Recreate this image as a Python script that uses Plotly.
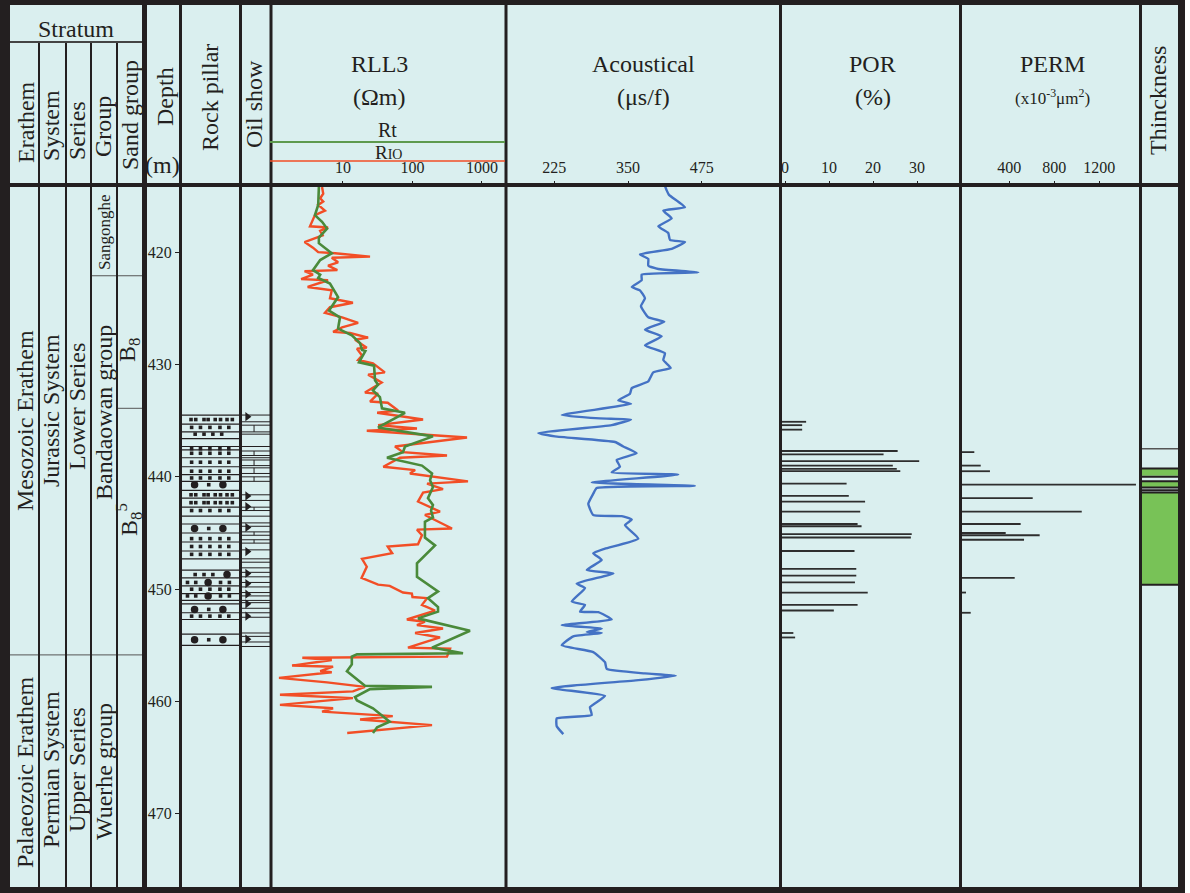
import plotly.graph_objects as go

W, H = 1190, 893
FONT = "Liberation Serif"
INK = "#231F20"
BG = "#DAEFEF"
GREEN = "#4A8A3A"
RED = "#F24E26"
BLUE = "#4472C4"
PAY = "#78C257"
BAR = "#2E2E2E"

# ---------------- data ----------------
depth_ticks = [420, 430, 440, 450, 460, 470]
depth_range = [476.6, 414.2]

rll_ticks = [10, 100, 1000]
rll_ticktext = ["10", "100", "1000"]
ac_ticks = [225, 350, 475]
por_ticks = [0, 10, 20, 30]
perm_ticks = [400, 800, 1200]

rio_depth = [414.2, 414.8, 415.2, 415.5, 415.8, 416.3, 416.7, 417.7, 417.8, 418.1,
             418.5, 419.1, 419.6, 420.0, 420.1, 420.4, 420.5, 420.9, 421.2, 421.6,
             421.7, 422.0, 422.4, 422.5, 423.1, 423.4, 424.1, 424.5, 424.9, 425.4,
             425.8, 426.3, 426.7, 427.1, 427.2, 427.6, 427.8, 428.5, 428.6, 429.2,
             429.6, 429.9, 430.7, 430.9, 431.6, 432.5, 432.6, 433.3, 433.4, 434.1,
             434.3, 434.9, 435.4, 435.7, 435.9, 436.5, 437.3, 437.8, 438.1, 438.3,
             439.1, 439.4, 439.7, 440.4, 440.6, 441.1, 441.4, 442.2, 443.1, 443.4,
             444.6, 444.7, 445.2, 446.0, 446.2, 446.8, 447.3, 448.0, 449.0, 449.6,
             449.7, 450.3, 450.4, 450.7, 450.8, 451.4, 451.9, 452.7, 452.9, 453.2,
             453.5, 453.9, 454.3, 455.2, 455.3, 456.0, 456.1, 456.3, 456.8, 456.9,
             457.3, 457.4, 457.9, 458.3, 458.7, 459.1, 459.4, 459.7, 460.3, 460.6,
             460.9, 461.3, 461.6, 462.1, 462.8]
rio_val = [5.0, 5.2, 4.7, 5.2, 4.4, 5.5, 3.95, 3.35, 6.1, 4.7,
           5.1, 2.8, 3.7, 4.4, 7.7, 24.5, 6.9, 8.5, 6.1, 8.3,
           2.8, 3.7, 2.5, 6.1, 3.1, 6.9, 6.5, 13.9, 6.5, 5.5,
           9.7, 16.5, 9.7, 7.2, 12.6, 23, 14.9, 22, 15.9, 18.8,
           16.5, 27, 40, 23, 36, 20.7, 32, 24.5, 44, 62,
           31, 142, 32, 116, 22, 609, 56, 73, 314, 66,
           38, 109, 92, 629, 162, 275, 142, 120, 249, 151,
           370, 116, 137, 120, 44, 51, 18.8, 22, 18.5, 32,
           47, 73, 98, 100, 162, 137, 211, 83, 151, 116,
           275, 109, 249, 86, 347, 314, 2.6, 6.9, 1.85, 7.2,
           4.7, 6.9, 1.2, 5.9, 20.7, 13.9, 1.24, 13.9, 1.24, 7.2,
           5.0, 52, 17.6, 191, 11.5]

rt_depth = [414.2, 415.8, 416.7, 417.3, 417.9, 418.7, 419.2, 420.1, 420.7, 421.6,
            422.0, 422.3, 422.8, 424.0, 425.2, 425.8, 426.8, 427.4, 428.1, 428.7,
            428.8, 429.8, 430.1, 431.4, 431.8, 432.3, 432.9, 433.9, 434.3, 435.6,
            436.4, 437.3, 437.8, 438.3, 439.0, 439.7, 440.3, 440.9, 441.9, 442.5,
            443.0, 443.6, 444.0, 445.4, 446.1, 447.7, 448.9, 450.2, 450.8, 451.6,
            452.0, 452.6, 453.7, 455.2, 455.7, 455.8, 456.0, 456.7, 457.3, 458.6,
            458.7, 458.9, 459.6, 459.9, 460.6, 461.8, 462.3, 462.8]
rt_val = [4.5, 4.4, 3.95, 5.0, 5.9, 4.5, 4.5, 6.9, 4.7, 3.7,
          4.7, 4.4, 6.5, 8.5, 6.3, 9.05, 8.5, 13.4, 17.6, 18.8,
          21, 17, 28, 28.9, 32, 27, 34, 36.4, 78, 32,
          197, 78, 73, 43, 137, 191, 179, 197, 167, 197,
          185, 197, 151, 151, 211, 116, 116, 233, 167, 233,
          233, 120, 672, 191, 533, 15.9, 13.4, 13.4, 11.4, 20.7,
          191, 24.5, 14.9, 15.9, 27, 47, 31, 27]

ac_depth = [414.1, 414.5, 414.9, 416.0, 416.3, 417.0, 417.7, 418.3, 418.9, 419.1,
            419.7, 420.2, 420.6, 421.2, 421.5, 421.8, 422.0, 422.5, 423.1, 423.4,
            424.1, 424.8, 425.8, 426.2, 426.9, 427.5, 428.3, 429.0, 429.6, 430.3,
            430.7, 431.5, 432.1, 432.6, 433.2, 433.5, 434.5, 434.8, 434.9, 435.4,
            436.1, 436.4, 436.9, 437.3, 437.9, 438.5, 439.1, 439.6, 439.8, 440.5,
            440.8, 441.0, 441.5, 442.4, 443.4, 443.5, 443.8, 444.3, 445.5, 446.4,
            446.8, 447.4, 448.3, 448.6, 449.5, 449.9, 451.1, 451.4, 452.0, 452.05,
            452.7, 453.2, 453.5, 453.8, 453.9, 454.2, 455.0, 455.6, 456.5, 457.1,
            457.5, 457.7, 458.1, 458.8, 459.5, 460.5, 461.2, 461.5, 462.2, 462.9]
ac_val = [412.7, 415.6, 419.5, 446.7, 409.9, 424.1, 401.4, 418.3, 421.2, 446.7,
          424.1, 370.3, 384.4, 384.4, 401.4, 469.2, 373.2, 373.2, 356.3, 370.3,
          378.8, 372.0, 384.4, 411.6, 378.8, 407.2, 378.8, 412.7, 409.9, 422.4,
          392.9, 384.4, 356.3, 353.4, 333.5, 355.1, 237.6, 302.5, 355.1, 322.4,
          197.9, 226.2, 328.0, 342.0, 364.7, 330.8, 336.4, 322.4, 435.3, 288.4,
          463.6, 296.9, 291.1, 282.7, 291.1, 339.3, 356.3, 344.9, 367.5, 311.0,
          291.1, 305.4, 280.0, 325.1, 263.0, 277.1, 254.5, 277.1, 268.6, 299.6,
          322.4, 237.6, 305.4, 280.0, 305.4, 257.2, 237.6, 291.1, 311.0, 313.9,
          378.8, 430.9, 367.5, 220.6, 311.0, 285.5, 288.4, 229.1, 229.1, 240.3]

por_depth = [435.1, 435.4, 435.8, 437.7, 438.0, 438.6, 439.0, 439.3, 439.5, 440.6,
             441.7, 442.2, 443.1, 444.2, 444.4, 445.1, 445.4, 446.6, 448.2, 448.8,
             449.4, 450.3, 451.4, 451.9, 453.9, 454.3]
por_val = [4.8, 3.9, 3.9, 25.6, 22.4, 30.5, 24.5, 25.4, 26.2, 14.0,
           14.5, 18.2, 17.1, 16.5, 17.4, 28.8, 28.6, 15.8, 16.2, 16.2,
           15.9, 18.8, 16.5, 11.1, 1.9, 2.3]

perm_depth = [437.8, 439.0, 439.5, 440.7, 441.9, 443.1, 444.2, 445.0, 445.2, 445.6,
              449.0, 450.3, 452.1]
perm_val = [89, 146, 228, 1526, 608, 1044, 501, 368, 670, 531, 448, 15, 57]

# pay intervals in the thickness column
pay_top = [439.3, 440.45, 441.4]
pay_base = [439.9, 440.9, 449.55]
thick_lines = [439.25, 440.0, 440.4, 440.95, 441.2, 441.4, 449.6]
thick_gray_lines = [437.5]

# stratigraphic boundaries (depth, m)
erathem_boundary = 455.85
group_boundary = 422.1
sand_boundary = 433.9

# lithology column
rock_lines = [434.5, 435.3, 436.0, 436.6, 437.3, 437.6, 438.3, 439.1, 439.8, 440.4,
              441.2, 441.9, 442.7, 443.5, 444.2, 445.0, 445.8, 446.6, 447.3, 448.3,
              449.0, 449.7, 450.4, 451.0, 451.3, 452.1, 452.7, 454.0, 455.0]
dot_rows_depth = [434.9, 435.6, 436.2, 437.5, 437.9, 438.7, 439.5, 440.1, 440.7, 441.6,
                  442.3, 443.0, 444.6, 445.5, 446.2, 446.9, 448.7, 449.4, 450.0, 450.6,
                  451.8, 452.4, 454.5]
dot_rows_kind = ["A", "B", "C", "B", "B", "B", "B", "B", "P", "A",
                 "A", "B", "P", "B", "B", "B", "R", "Q", "B", "Q",
                 "P", "B", "P"]

# oil show column
oil_lines = [434.5, 435.1, 435.4, 436.0, 436.2, 437.3, 437.7, 438.1, 438.3, 438.5,
             439.0, 439.2, 439.7, 440.0, 440.4, 441.6, 442.1, 442.7, 443.0, 443.5,
             444.1, 444.4, 444.9, 445.2, 445.6, 445.9, 446.5, 447.3, 447.6, 448.1,
             448.5, 448.9, 449.4, 449.8, 450.3, 450.6, 451.0, 451.2, 451.7, 452.1,
             452.5, 453.9, 454.2, 454.7, 455.1]
oil_split_top = [435.4, 437.7, 438.5, 439.2, 440.0, 442.7, 444.9, 445.6]
oil_split_base = [436.0, 438.1, 439.0, 439.7, 440.4, 443.0, 445.2, 445.9]
oil_show_depth = [434.65, 441.7, 442.65, 444.5, 446.65, 448.6, 449.5, 450.45, 451.3, 452.4, 454.45]

# ---------------- style helpers ----------------
def px(x):
    return x / W

def py(y):
    return 1 - y / H

DATA_TOP, DATA_BOT = 187, 888
ydom = [py(DATA_BOT), py(DATA_TOP)]

PATTERNS = {
    "A": ([.17, .25, .39, .46, .58, .67, .78, .87], []),
    "B": ([.18, .33, .49, .66, .81], []),
    "C": ([.24, .39, .54, .69], []),
    "P": ([.47], [.23, .71]),
    "R": ([.24, .39, .54], [.78]),
    "Q": ([.11, .25, .67, .82], [.46]),
}

fig = go.Figure()

# RLL3
fig.add_trace(go.Scatter(x=rio_val, y=rio_depth, xaxis="x", yaxis="y", mode="lines",
                         line=dict(color=RED, width=2.4), name="RIO"))
fig.add_trace(go.Scatter(x=rt_val, y=rt_depth, xaxis="x", yaxis="y", mode="lines",
                         line=dict(color=GREEN, width=2.6), name="Rt"))
# Acoustic
fig.add_trace(go.Scatter(x=ac_val, y=ac_depth, xaxis="x2", yaxis="y", mode="lines",
                         line=dict(color=BLUE, width=2.4, shape="spline", smoothing=0.4),
                         name="AC"))

POR_RANGE = [-1.136, 39.77]
PERM_RANGE = [-38.2, 1561.8]


def segments(depths, vals, base):
    xs, ys = [], []
    for d, v in zip(depths, vals):
        xs += [base, v, None]
        ys += [d, d, None]
    return xs, ys


xs, ys = segments(por_depth, por_val, POR_RANGE[0])
fig.add_trace(go.Scatter(x=xs, y=ys, xaxis="x3", yaxis="y", mode="lines",
                         line=dict(color=BAR, width=1.8), name="POR"))
xs, ys = segments(perm_depth, perm_val, PERM_RANGE[0])
fig.add_trace(go.Scatter(x=xs, y=ys, xaxis="x4", yaxis="y", mode="lines",
                         line=dict(color=BAR, width=1.8), name="PERM"))

# rock pillar
xs, ys = [], []
for d in rock_lines:
    xs += [0, 1, None]
    ys += [d, d, None]
fig.add_trace(go.Scatter(x=xs, y=ys, xaxis="x5", yaxis="y", mode="lines",
                         line=dict(color=INK, width=1.2)))
sx, sy, bx, by = [], [], [], []
for d, k in zip(dot_rows_depth, dot_rows_kind):
    small, big = PATTERNS[k]
    sx += small
    sy += [d] * len(small)
    bx += big
    by += [d] * len(big)
fig.add_trace(go.Scatter(x=sx, y=sy, xaxis="x5", yaxis="y", mode="markers",
                         marker=dict(symbol="square", size=3.6, color=INK)))
fig.add_trace(go.Scatter(x=bx, y=by, xaxis="x5", yaxis="y", mode="markers",
                         marker=dict(symbol="circle", size=7.5, color=INK)))

# oil show
xs, ys = [], []
for d in oil_lines:
    xs += [0, 1, None]
    ys += [d, d, None]
for t, b in zip(oil_split_top, oil_split_base):
    xs += [0.45, 0.45, None]
    ys += [t, b, None]
fig.add_trace(go.Scatter(x=xs, y=ys, xaxis="x6", yaxis="y", mode="lines",
                         line=dict(color=INK, width=1.0)))
fig.add_trace(go.Scatter(x=[0.22] * len(oil_show_depth), y=oil_show_depth, xaxis="x6", yaxis="y",
                         mode="markers", marker=dict(symbol="triangle-right", size=8, color=INK)))

# ---------------- axes ----------------
tickfont = dict(family=FONT, size=16, color=INK)
common_x = dict(anchor="y", side="top", ticks="outside", ticklen=5, tickwidth=1.2,
                tickcolor=INK, tickfont=tickfont, showgrid=False, zeroline=False,
                showline=False, ticklabelstandoff=2)
hidden_x = dict(anchor="y", visible=False, range=[0, 1], fixedrange=True)

fig.update_layout(
    width=W, height=H, margin=dict(l=0, r=0, t=0, b=0),
    paper_bgcolor=BG, plot_bgcolor="rgba(0,0,0,0)", showlegend=False,
    hovermode=False,
    yaxis=dict(domain=ydom, range=depth_range, anchor="free", position=px(180),
               side="left", tickvals=depth_ticks, ticks="outside", ticklen=5,
               tickwidth=1.2, tickcolor=INK, tickfont=tickfont, showgrid=False,
               zeroline=False, showline=False),
    xaxis=dict(domain=[px(270), px(505)], type="log", range=[-0.05, 3.331],
               tickvals=rll_ticks, ticktext=rll_ticktext, **common_x),
    xaxis2=dict(domain=[px(505), px(780)], range=[141.4, 607.8], tickvals=ac_ticks, **common_x),
    xaxis3=dict(domain=[px(780), px(960)], range=POR_RANGE, tickvals=por_ticks, **common_x),
    xaxis4=dict(domain=[px(960), px(1140)], range=PERM_RANGE, tickvals=perm_ticks, **common_x),
    xaxis5=dict(domain=[px(181), px(240)], **hidden_x),
    xaxis6=dict(domain=[px(241), px(270)], **hidden_x),
    xaxis7=dict(domain=[px(1141), px(1178)], **hidden_x),
)

# ---------------- shapes ----------------
shapes = []


def rect(x0, y0, x1, y1, color=INK, layer="above"):
    shapes.append(dict(type="rect", xref="paper", yref="paper", x0=px(x0), x1=px(x1),
                       y0=py(y1), y1=py(y0), fillcolor=color, line=dict(width=0), layer=layer))


def line(x0, y0, x1, y1, color=INK, width=2):
    shapes.append(dict(type="line", xref="paper", yref="paper", x0=px(x0), x1=px(x1),
                       y0=py(y0), y1=py(y1), line=dict(color=color, width=width)))


# thickness column pay zones
for t, b in zip(pay_top, pay_base):
    shapes.append(dict(type="rect", xref="x7", yref="y", x0=0, x1=1, y0=t, y1=b,
                       fillcolor=PAY, line=dict(width=0), layer="below"))
for d in thick_lines:
    shapes.append(dict(type="line", xref="x7", yref="y", x0=0, x1=1, y0=d, y1=d,
                       line=dict(color=INK, width=2)))
for d in thick_gray_lines:
    shapes.append(dict(type="line", xref="x7", yref="y", x0=0, x1=1, y0=d, y1=d,
                       line=dict(color="#555555", width=1.5)))

# stratigraphic boundaries
shapes.append(dict(type="line", xref="paper", yref="y", x0=px(10), x1=px(142),
                   y0=erathem_boundary, y1=erathem_boundary, line=dict(color="#555555", width=1)))
shapes.append(dict(type="line", xref="paper", yref="y", x0=px(91), x1=px(142),
                   y0=group_boundary, y1=group_boundary, line=dict(color="#555555", width=1)))
shapes.append(dict(type="line", xref="paper", yref="y", x0=px(117), x1=px(142),
                   y0=sand_boundary, y1=sand_boundary, line=dict(color="#555555", width=1)))

# column separators
for x in [39, 66, 91, 117]:
    line(x, 42, x, 887, width=2)
line(10, 42, 142, 42, color="#444444", width=2)
rect(142, 0, 147, 893)
for x in [180.5, 240.5, 271, 506, 780.5, 960.5, 1140.5]:
    line(x, 3, x, 888, width=3)
rect(10, 183, 1178, 187)

# header legend lines
line(270, 142, 505, 142, color="#5E9A4E", width=2)
line(270, 161, 505, 161, color=RED, width=1.5)

# frame
rect(0, 0, 10, 893)
rect(0, 0, 1185, 5)
rect(1178, 0, 1185, 893)
rect(0, 887, 1185, 893)
rect(1185, 0, 1190, 893, color="white")

fig.update_layout(shapes=shapes)

# ---------------- annotations ----------------
anns = []


def ann(text, x, y, size=24, angle=0):
    anns.append(dict(text=text, x=px(x), y=py(y), xref="paper", yref="paper",
                     showarrow=False, textangle=angle, xanchor="center", yanchor="middle",
                     font=dict(family=FONT, size=size, color=INK)))


ann("Stratum", 76, 29)
ann("Erathem", 26, 122, angle=-90)
ann("System", 51, 126, angle=-90)
ann("Series", 77, 131, angle=-90)
ann("Group", 103, 127, angle=-90)
ann("Sand group", 130, 115, angle=-90)
ann("Depth", 165, 97, angle=-90)
ann("(m)", 162, 165)
ann("Rock pillar", 210, 98, angle=-90)
ann("Oil show", 254, 104, angle=-90)
ann("RLL3", 380, 64)
ann("(Ωm)", 380, 97)
ann("Rt", 387, 130, size=20)
ann("R<span style='font-size:14px'>IO</span>", 388, 152, size=19)
ann("Acoustical", 643, 64)
ann("(μs/f)", 643, 97)
ann("POR", 873, 64)
ann("(%)", 873, 97)
ann("PERM", 1052, 64)
ann("(x10<sup>-3</sup>μm<sup>2</sup>)", 1052, 97, size=17)
ann("Thinckness", 1158, 101, angle=-90)

ann("Mesozoic Erathem", 25, 421, angle=-90)
ann("Jurassic System", 51, 411, angle=-90)
ann("Lower Series", 77, 407, angle=-90)
ann("Sangonghe", 104, 232, size=17, angle=-90)
ann("Bandaowan group", 104, 413, angle=-90)
ann("B<sub>8</sub>", 129, 350, angle=-90)
ann("B<sub>8</sub><sup>5</sup>", 129, 520, angle=-90)
ann("Palaeozoic Erathem", 25, 772, angle=-90)
ann("Permian System", 51, 770, angle=-90)
ann("Upper Series", 77, 770, angle=-90)
ann("Wuerhe group", 104, 772, angle=-90)

fig.update_layout(annotations=anns)

fig.write_html("out.html", config={"displayModeBar": False},
               post_script="document.body.style.margin='0';document.body.style.overflow='hidden';")
